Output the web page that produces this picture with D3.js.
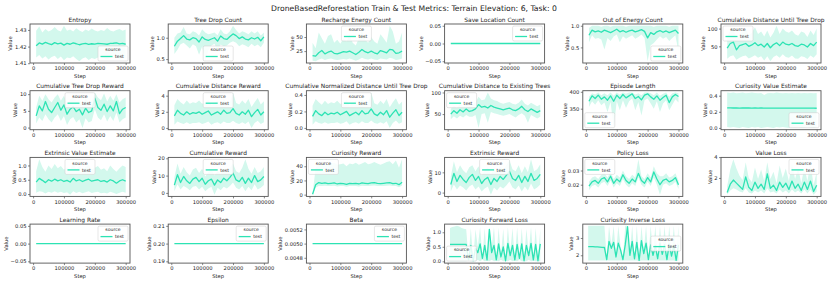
<!DOCTYPE html>
<html>
<head>
<meta charset="utf-8">
<script src="https://cdn.jsdelivr.net/npm/d3@7"></script>
<style>
  body { margin: 0; background: #fff; }
  svg { display: block; font-family: "DejaVu Sans", sans-serif; }
</style>
</head>
<body>
<svg id="chart" width="831" height="283"></svg>
<script>
// Training steps (x values)
var steps = [10000, 20000, 30000, 40000, 50000, 60000, 70000, 80000, 90000, 100000,
             110000, 120000, 130000, 140000, 150000, 160000, 170000, 180000, 190000, 200000,
             210000, 220000, 230000, 240000, 250000, 260000, 270000, 280000, 290000, 300000];
var flatSteps = [10000, 300000];
var lossSteps = [7500, 15000, 22500, 30000, 37500, 45000, 52500, 60000, 67500, 75000,
                 82500, 90000, 97500, 105000, 112500, 120000, 127500, 135000, 142500, 150000,
                 157500, 165000, 172500, 180000, 187500, 195000, 202500, 210000, 217500, 225000,
                 232500, 240000, 247500, 255000, 262500, 270000, 277500, 285000, 292500, 300000];
var stepDomain = [-10000, 314000];
var stepTicks = [0, 100000, 200000, 300000];

// Row 1
var entropyMean = [1.4205,1.4222,1.4215,1.4225,1.4218,1.4212,1.4224,1.4216,1.4221,1.4209,1.4219,1.4214,1.4222,1.4217,1.4211,1.4216,1.4219,1.4213,1.4217,1.4215,1.4219,1.4218,1.4216,1.4214,1.4219,1.4220,1.4222,1.4216,1.4219,1.4214];
var entropyLo = [1.4135,1.4150,1.4128,1.4142,1.4122,1.4138,1.4145,1.4125,1.4140,1.4118,1.4135,1.4130,1.4142,1.4126,1.4112,1.4128,1.4136,1.4120,1.4132,1.4125,1.4134,1.4140,1.4128,1.4122,1.4136,1.4130,1.4138,1.4126,1.4132,1.4128];
var entropyHi = [1.4295,1.4320,1.4285,1.4305,1.4290,1.4300,1.4318,1.4298,1.4290,1.4325,1.4295,1.4302,1.4290,1.4310,1.4296,1.4288,1.4302,1.4294,1.4308,1.4296,1.4290,1.4300,1.4294,1.4312,1.4296,1.4290,1.4300,1.4305,1.4295,1.4302];
var entropyTicks = [1.41, 1.42, 1.43];

var treeDropMean = [0.80,0.92,0.98,1.05,0.97,0.95,1.00,0.98,0.90,1.02,0.96,0.94,0.97,1.00,0.92,1.04,0.98,0.96,1.03,1.09,1.05,0.98,1.02,0.97,0.95,1.00,0.97,1.01,0.93,1.02];
var treeDropLo = [0.62,0.72,0.85,0.88,0.82,0.75,0.85,0.80,0.60,0.80,0.45,0.70,0.82,0.86,0.70,0.84,0.80,0.82,0.88,0.92,0.88,0.80,0.85,0.82,0.78,0.86,0.80,0.84,0.78,0.88];
var treeDropHi = [1.00,1.10,1.12,1.25,1.10,1.08,1.15,1.12,1.05,1.20,1.12,1.08,1.10,1.12,1.06,1.20,1.10,1.08,1.15,1.28,1.18,1.10,1.15,1.12,1.08,1.15,1.10,1.15,1.05,1.12];
var treeDropTicks = [0.5, 1.0];

var rechargeMean = [17,16,22,26,20,23,25,21,20,22,24,23,25,22,19,23,28,24,22,25,22,20,26,24,22,28,27,21,22,25];
var rechargeLo = [8,7,10,12,9,11,12,10,9,10,11,10,12,10,8,10,13,11,10,12,10,9,12,11,10,13,12,9,10,12];
var rechargeHi = [40,30,58,48,38,52,55,40,45,38,48,42,55,40,35,48,62,45,40,50,42,38,55,48,40,70,60,38,42,58];
var rechargeTicks = [25, 50];

var saveLocMean = [0, 0];
var zeroTicks = [-0.05, 0.00, 0.05];

var outEnergyMean = [0.78,0.90,0.86,0.88,0.85,0.90,0.87,0.84,0.88,0.92,0.86,0.89,0.85,0.88,0.90,0.86,0.88,0.91,0.87,0.72,0.84,0.80,0.86,0.89,0.85,0.88,0.84,0.87,0.90,0.82];
var outEnergyLo = [0.62,0.78,0.70,0.72,0.68,0.45,0.72,0.65,0.75,0.80,0.62,0.76,0.70,0.74,0.78,0.70,0.74,0.80,0.72,0.18,0.55,0.60,0.68,0.76,0.70,0.74,0.65,0.72,0.78,0.40];
var outEnergyHi = [0.95,1.00,1.00,1.00,0.98,1.00,1.00,0.98,1.00,1.00,1.00,1.00,0.98,1.00,1.00,1.00,1.00,1.00,1.00,1.00,1.00,0.98,1.00,1.00,1.00,1.00,0.98,1.00,1.00,1.00];
var outEnergyTicks = [0.5, 1.0];

var distUntilDropMean = [45,58,62,40,52,55,58,50,54,60,52,56,48,58,46,55,60,52,62,56,54,58,52,50,56,54,48,58,52,62];
var distUntilDropLo = [15,22,25,12,18,22,24,16,20,25,18,22,10,22,8,20,25,18,28,20,18,24,16,15,22,20,14,24,18,28];
var distUntilDropHi = [78,95,100,72,85,90,98,82,88,104,85,92,78,95,75,88,108,85,100,92,88,95,84,80,92,88,76,95,82,100];
var fiftyHundredTicks = [50, 100];

// Row 2
var treeDropRewardMean = [3.5,6.5,5.0,7.8,5.5,4.5,6.0,7.5,5.2,6.8,4.0,5.5,6.2,4.8,5.5,3.8,5.8,4.5,5.0,8.8,6.0,5.2,7.0,4.8,6.5,5.0,7.8,4.2,5.5,6.0];
var treeDropRewardLo = [1.2,3.0,2.0,4.0,2.5,1.5,3.0,4.0,2.0,3.5,0.8,2.5,3.2,1.5,2.5,-0.1,2.8,1.5,2.0,5.5,3.0,2.2,4.0,1.8,3.5,2.0,4.5,1.5,2.5,3.0];
var treeDropRewardHi = [6.0,9.5,8.0,10.0,8.5,7.5,9.0,10.0,8.0,9.5,7.0,8.5,9.0,8.0,8.5,7.0,8.8,7.5,8.0,10.5,9.0,8.2,10.2,7.8,9.5,8.0,10.0,7.5,8.5,9.0];
var zeroFiveTenTicks = [0, 5, 10];

var distRewardMean = [1.5,2.2,1.8,1.6,2.0,1.7,1.9,1.8,2.0,1.7,1.9,2.1,1.6,1.8,2.0,1.7,2.2,1.8,1.9,2.4,1.8,1.6,2.0,1.7,2.2,1.4,1.9,2.3,1.6,2.0];
var distRewardLo = [0.4,0.8,0.6,0.5,0.7,0.5,0.6,0.6,0.7,0.5,0.6,0.8,0.4,0.6,0.7,0.5,0.8,0.6,0.6,0.9,0.6,0.5,0.7,0.5,0.8,0.0,0.6,0.9,0.5,0.7];
var distRewardHi = [2.8,3.6,3.2,2.9,3.4,3.0,3.2,3.1,3.4,3.0,3.2,3.5,2.8,3.1,3.4,3.0,3.6,3.1,3.2,4.4,3.1,2.9,3.4,3.0,3.6,2.6,3.2,3.7,2.9,3.3];
var zeroTwoFourTicks = [0, 2, 4];

var normDistMean = [0.14,0.21,0.17,0.15,0.19,0.16,0.18,0.17,0.19,0.16,0.18,0.20,0.15,0.17,0.19,0.16,0.21,0.17,0.18,0.23,0.17,0.15,0.19,0.16,0.21,0.13,0.18,0.22,0.15,0.19];
var normDistLo = [0.04,0.08,0.06,0.05,0.07,0.05,0.06,0.06,0.07,0.05,0.06,0.08,0.04,0.06,0.07,0.05,0.08,0.06,0.06,0.09,0.06,0.05,0.07,0.05,0.08,0.00,0.06,0.09,0.05,0.07];
var normDistHi = [0.27,0.35,0.31,0.28,0.33,0.29,0.31,0.30,0.33,0.29,0.31,0.34,0.27,0.30,0.33,0.29,0.35,0.30,0.31,0.43,0.30,0.28,0.33,0.29,0.35,0.25,0.31,0.36,0.28,0.32];
var tenthsTicks = [0.0, 0.2, 0.4];

var distExistingMean = [50,58,52,60,55,62,56,58,62,72,66,68,64,70,66,64,62,60,62,64,60,58,62,68,60,56,62,58,54,58];
var distExistingLo = [38,45,40,46,42,48,44,44,48,18,50,52,30,55,52,50,48,46,48,50,46,42,48,52,46,30,48,44,40,44];
var distExistingHi = [62,70,64,74,68,76,68,72,76,90,82,84,100,86,82,80,76,74,76,78,74,72,76,84,74,70,76,72,68,72];

var episodeLenMean = [372,388,380,390,378,385,375,388,372,390,380,392,382,388,394,380,386,376,390,394,385,378,388,375,383,390,368,385,392,386];
var episodeLenLo = [355,372,362,375,360,368,340,370,293,372,345,375,352,372,380,345,370,330,375,380,365,350,372,340,365,375,345,362,378,368];
var episodeLenHi = [385,396,392,398,390,396,390,398,388,398,392,398,394,398,398,392,396,390,398,398,396,390,398,388,394,398,385,396,398,396];
var episodeLenTicks = [350, 400];

var curValueMean = [0.250,0.248,0.247,0.248,0.246,0.247,0.248,0.247,0.246,0.247,0.246,0.247,0.246,0.245,0.246,0.246,0.245,0.246,0.245,0.246,0.245,0.246,0.245,0.245,0.246,0.245,0.245,0.246,0.245,0.244];
var curValueLo = [0.01,0.005,0.01,0.005,0.0,0.01,0.005,0.0,0.01,0.005,0.01,0.0,0.005,0.01,0.005,0.0,0.01,0.005,0.01,0.005,0.0,0.01,0.005,0.01,0.0,0.005,0.01,0.005,0.0,0.01];
var curValueHi = [0.44,0.435,0.44,0.43,0.435,0.44,0.43,0.435,0.44,0.435,0.43,0.435,0.41,0.43,0.435,0.43,0.44,0.435,0.43,0.435,0.43,0.435,0.43,0.435,0.43,0.435,0.43,0.435,0.43,0.435];

// Row 3
var extValueMean = [0.42,0.55,0.48,0.40,0.50,0.45,0.52,0.46,0.50,0.44,0.48,0.42,0.55,0.46,0.50,0.44,0.49,0.52,0.45,0.48,0.50,0.44,0.47,0.42,0.50,0.46,0.38,0.46,0.50,0.45];
var extValueLo = [0.05,0.10,0.08,0.02,0.08,0.05,0.10,0.05,0.08,0.04,0.06,-0.02,0.10,0.04,0.08,0.03,0.06,0.10,0.04,0.06,0.08,0.03,0.05,0.02,0.08,0.05,0.00,0.05,0.08,0.05];
var extValueHi = [0.80,1.22,0.95,0.78,1.00,0.88,1.05,0.90,0.98,0.85,0.95,0.82,1.10,0.88,1.00,0.85,0.95,1.02,0.86,0.92,0.98,0.85,0.90,0.80,1.00,0.88,0.78,0.90,1.00,0.95];
var halfTicks = [0.0, 0.5, 1.0];

var cumRewardMean = [4.5,10.5,6.0,9.5,7.0,5.5,8.0,9.0,6.5,8.5,5.0,7.0,8.0,4.5,7.5,6.0,8.5,7.0,9.0,11.5,7.5,6.5,9.0,5.5,8.5,6.0,10.0,6.5,7.5,9.5];
var cumRewardLo = [1.0,5.0,2.0,4.0,3.0,1.5,3.5,4.0,2.0,3.5,1.0,2.5,3.5,-1.0,3.0,1.5,3.5,2.5,4.0,6.0,3.0,2.0,4.0,1.0,3.5,1.5,5.0,2.0,3.0,4.5];
var cumRewardHi = [9.0,17.0,11.0,15.0,12.0,10.0,13.5,14.5,11.5,14.0,9.5,12.0,13.5,10.0,12.5,11.0,14.0,12.0,14.5,17.0,12.5,11.5,14.5,19.5,14.0,11.0,15.0,11.5,12.5,15.0];
var tensTicks = [0, 10, 20];

var curRewardMean = [0.5,14,17,16,16.5,15.5,16,16.5,15,16,15.5,14.5,16,15.5,16,15,16.5,16,15.5,16.5,17,16,15.5,16,16.5,17,15.5,16,14,17.5];
var curRewardLo = [0,10,12,12,12.5,12,12,12.5,11.5,12,12,11,12,12,12,11.5,12.5,12,12,12.5,13,12,12,12,12.5,13,12,12,10.5,13];
var curRewardHi = [1,38,43,42,44,43,44,45,42,43,44,40,44,43,45,42,44,46,43,44,46,44,42,44,46,47,43,48,38,50];
var twentiesTicks = [0, 20, 40];

var extRewardMean = [4.0,9.5,5.5,8.5,6.5,5.0,7.5,9.0,6.0,8.0,4.5,6.5,7.5,4.0,7.0,5.5,8.0,6.5,8.5,10.5,7.0,6.0,8.5,5.0,8.0,5.5,9.5,6.0,7.0,9.0];
var extRewardLo = [0.5,4.0,1.5,3.5,2.5,1.0,3.0,4.0,1.5,3.0,0.5,2.0,3.0,-1.0,2.5,1.0,3.0,2.0,3.5,5.5,2.5,1.5,3.5,0.5,3.0,1.0,4.5,1.5,2.5,4.0];
var extRewardHi = [8.0,15.5,10.0,13.5,11.0,9.5,12.5,13.5,10.5,13.0,8.5,11.0,12.5,9.0,11.5,10.0,13.0,11.0,13.5,16.0,11.5,10.5,13.5,9.5,13.0,10.0,16.5,10.5,11.5,14.0];
var zeroTenTicks = [0, 10];

var policyLossMean = [0.019,0.022,0.023,0.021,0.024,0.025,0.022,0.026,0.021,0.024,0.022,0.027,0.023,0.021,0.024,0.022,0.028,0.023,0.021,0.025,0.022,0.029,0.024,0.020,0.023,0.024,0.022,0.023,0.025,0.020];
var policyLossLo = [0.016,0.019,0.020,0.018,0.021,0.022,0.019,0.023,0.018,0.021,0.019,0.024,0.020,0.018,0.021,0.019,0.025,0.020,0.018,0.022,0.019,0.025,0.020,0.013,0.020,0.021,0.019,0.020,0.022,0.017];
var policyLossHi = [0.022,0.025,0.026,0.024,0.027,0.028,0.025,0.029,0.024,0.027,0.025,0.030,0.026,0.024,0.027,0.025,0.038,0.026,0.024,0.028,0.025,0.033,0.028,0.026,0.026,0.028,0.025,0.026,0.028,0.023];
var policyLossTicks = [0.02, 0.03];

var valueLossMean = [0.6,1.4,1.8,1.5,1.2,0.9,2.1,1.1,0.8,1.6,1.0,1.4,0.9,2.4,1.0,1.3,0.8,1.6,1.1,1.5,0.9,1.7,1.0,1.4,0.8,1.6,0.9,1.7,0.7,1.3];
var valueLossLo = [0.4,0.8,1.0,0.9,0.7,0.6,1.0,0.6,0.5,0.8,0.6,0.8,0.5,1.0,0.6,0.7,0.5,0.9,0.6,0.8,0.5,0.9,0.6,0.8,0.5,0.9,0.5,0.9,0.4,0.7];
var valueLossHi = [1.2,2.8,3.8,2.9,2.2,1.8,3.5,2.0,1.6,3.0,1.9,2.8,1.7,3.5,1.9,2.6,1.5,3.2,2.0,2.9,1.7,3.4,1.9,3.0,1.5,3.0,1.7,3.4,1.3,2.6];
var valueLossTicks = [2, 4];

// Row 4
var learningRateMean = [0, 0];
var epsilonMean = [0.2, 0.2];
var epsilonTicks = [0.19, 0.20, 0.21];
var betaMean = [0.005, 0.005];
var betaTicks = [0.0048, 0.0050, 0.0052];

var fwdLossMean = [0.58,0.58,0.58,0.58,0.58,0.58,0.58,0.58,0.05,0.55,0.02,0.45,0.30,0.60,0.10,0.55,0.05,1.10,0.30,0.55,0.05,0.60,0.15,0.50,0.02,0.62,0.20,0.55,0.05,0.58,0.10,0.60,0.02,0.55,0.20,0.62,0.05,0.58,0.02,0.60];
var fwdLossLo = [0,0,0,0,0,0,0,0,0.03,0.0,0.0,0.0,0.05,0.0,0.05,0.0,0.02,0.0,0.05,0.0,0.02,0.0,0.05,0.0,0.0,0.0,0.05,0.0,0.02,0.0,0.05,0.0,0.0,0.0,0.05,0.0,0.02,0.0,0.0,0.0];
var fwdLossHi = [1.15,1.18,1.20,1.22,1.20,1.15,1.12,1.10,0.08,1.15,0.05,1.10,0.50,1.18,0.15,1.15,0.08,1.15,0.50,1.18,0.08,1.16,0.20,1.12,0.05,1.18,0.30,1.15,0.08,1.16,0.15,1.15,0.05,1.12,0.30,1.18,0.08,1.15,0.05,1.12];

var invLossMean = [2.50,2.50,2.50,2.48,2.48,2.47,2.46,2.45,1.75,2.80,2.40,2.75,1.90,2.70,2.30,1.75,2.60,3.65,2.00,2.80,1.80,2.75,1.70,2.85,2.10,2.70,1.75,2.60,2.00,2.55,1.80,2.70,2.05,2.60,1.75,2.65,1.95,2.55,1.70,2.60];
var invLossLo = [1.70,1.70,1.70,1.70,1.70,1.70,1.70,1.70,1.70,1.70,1.70,1.70,1.70,1.70,1.70,1.70,1.70,1.70,1.70,1.70,1.70,1.70,1.65,1.70,1.70,1.70,1.70,1.70,1.70,1.70,1.70,1.70,1.70,1.70,1.70,1.70,1.70,1.70,1.65,1.70];
var invLossHi = [3.70,3.70,3.70,3.70,3.70,3.70,3.70,3.70,1.85,3.70,2.60,3.70,2.00,3.70,2.50,1.85,3.70,3.70,2.10,3.70,1.90,3.70,1.80,3.70,2.25,3.70,1.85,3.70,2.10,3.70,1.90,3.70,2.15,3.70,1.85,3.70,2.05,3.70,1.80,3.70];
var invLossTicks = [2, 3];

// Panel table, in the order they appear (6 per row)
var panels = [
  { title: 'Entropy', x: steps, mean: entropyMean, lo: entropyLo, hi: entropyHi, ticks: entropyTicks, fmt: '.2f', legend: 'lr' },
  { title: 'Tree Drop Count', x: steps, mean: treeDropMean, lo: treeDropLo, hi: treeDropHi, ticks: treeDropTicks, fmt: '.1f', legend: 'lc' },
  { title: 'Recharge Energy Count', x: steps, mean: rechargeMean, lo: rechargeLo, hi: rechargeHi, ticks: rechargeTicks, fmt: 'd', legend: 'uc' },
  { title: 'Save Location Count', x: flatSteps, mean: saveLocMean, ticks: zeroTicks, fmt: '.2f', legend: 'ur' },
  { title: 'Out of Energy Count', x: steps, mean: outEnergyMean, lo: outEnergyLo, hi: outEnergyHi, ticks: outEnergyTicks, fmt: '.1f', legend: 'lr' },
  { title: 'Cumulative Distance Until Tree Drop', x: steps, mean: distUntilDropMean, lo: distUntilDropLo, hi: distUntilDropHi, ticks: fiftyHundredTicks, fmt: 'd', legend: 'ul' },

  { title: 'Cumulative Tree Drop Reward', x: steps, mean: treeDropRewardMean, lo: treeDropRewardLo, hi: treeDropRewardHi, ticks: zeroFiveTenTicks, fmt: 'd', legend: 'uc' },
  { title: 'Cumulative Distance Reward', x: steps, mean: distRewardMean, lo: distRewardLo, hi: distRewardHi, ticks: zeroTwoFourTicks, fmt: 'd', legend: 'uc' },
  { title: 'Cumulative Normalized Distance Until Tree Drop', x: steps, mean: normDistMean, lo: normDistLo, hi: normDistHi, ticks: tenthsTicks, fmt: '.1f', legend: 'uc' },
  { title: 'Cumulative Distance to Existing Trees', x: steps, mean: distExistingMean, lo: distExistingLo, hi: distExistingHi, ticks: fiftyHundredTicks, fmt: 'd', legend: 'ul' },
  { title: 'Episode Length', x: steps, mean: episodeLenMean, lo: episodeLenLo, hi: episodeLenHi, ticks: episodeLenTicks, fmt: 'd', legend: 'll' },
  { title: 'Curiosity Value Estimate', x: steps, mean: curValueMean, lo: curValueLo, hi: curValueHi, ticks: tenthsTicks, fmt: '.1f', legend: 'lr' },

  { title: 'Extrinsic Value Estimate', x: steps, mean: extValueMean, lo: extValueLo, hi: extValueHi, ticks: halfTicks, fmt: '.1f', legend: 'uc' },
  { title: 'Cumulative Reward', x: steps, mean: cumRewardMean, lo: cumRewardLo, hi: cumRewardHi, ticks: tensTicks, fmt: 'd', legend: 'uc' },
  { title: 'Curiosity Reward', x: steps, mean: curRewardMean, lo: curRewardLo, hi: curRewardHi, ticks: twentiesTicks, fmt: 'd', legend: 'ul' },
  { title: 'Extrinsic Reward', x: steps, mean: extRewardMean, lo: extRewardLo, hi: extRewardHi, ticks: zeroTenTicks, fmt: 'd', legend: 'uc' },
  { title: 'Policy Loss', x: steps, mean: policyLossMean, lo: policyLossLo, hi: policyLossHi, ticks: policyLossTicks, fmt: '.2f', legend: 'ul' },
  { title: 'Value Loss', x: steps, mean: valueLossMean, lo: valueLossLo, hi: valueLossHi, ticks: valueLossTicks, fmt: 'd', legend: 'ur' },

  { title: 'Learning Rate', x: flatSteps, mean: learningRateMean, ticks: zeroTicks, fmt: '.2f', legend: 'ur' },
  { title: 'Epsilon', x: flatSteps, mean: epsilonMean, ticks: epsilonTicks, fmt: '.2f', legend: 'ur' },
  { title: 'Beta', x: flatSteps, mean: betaMean, ticks: betaTicks, fmt: '.4f', legend: 'ur' },
  { title: 'Curiosity Forward Loss', x: lossSteps, mean: fwdLossMean, lo: fwdLossLo, hi: fwdLossHi, ticks: halfTicks, fmt: '.1f', legend: 'll' },
  { title: 'Curiosity Inverse Loss', x: lossSteps, mean: invLossMean, lo: invLossLo, hi: invLossHi, ticks: invLossTicks, fmt: 'd', legend: 'cr' }
];

// Layout
var colLeft = 30, colStep = 138.2, plotW = 100;
var rowTop = 24, rowStep = 66.7, plotH = 39;
var lineColor = '#2de3b4';
var fillColor = '#d3f8ed';
var textColor = '#222';
var frameColor = '#555';

var svg = d3.select('#chart');

svg.append('text')
    .attr('x', 414)
    .attr('y', 11)
    .attr('text-anchor', 'middle')
    .attr('font-size', 7.7)
    .attr('fill', textColor)
    .text('DroneBasedReforestation Train & Test Metrics: Terrain Elevation: 6, Task: 0');

// matplotlib-like autoscale: data limits + 5% margin, flat data expanded first
function yExtent(p) {
    var all = p.mean.concat(p.lo || [], p.hi || []);
    var lo = d3.min(all), hi = d3.max(all);
    if (lo === hi) {
        if (lo === 0) { lo = -0.05; hi = 0.05; }
        else { lo = lo - 0.05 * Math.abs(lo); hi = hi + 0.05 * Math.abs(hi); }
    }
    var pad = (hi - lo) * 0.05;
    return [lo - pad, hi + pad];
}

function legendPos(loc) {
    var lw = 30, lh = 15, m = 2;
    var v = loc.charAt(0), h = loc.charAt(1);
    var ly = v === 'u' ? m : (v === 'l' ? plotH - lh - m : (plotH - lh) / 2);
    var lx = h === 'l' ? m : (h === 'r' ? plotW - lw - m : (plotW - lw) / 2);
    return [lx, ly, lw, lh];
}

panels.forEach(function(p, i) {
    var row = Math.floor(i / 6), col = i % 6;
    var g = svg.append('g')
        .attr('transform', 'translate(' + (colLeft + col * colStep) + ',' + (rowTop + row * rowStep) + ')');

    var x = d3.scaleLinear().domain(stepDomain).range([0, plotW]);
    var y = d3.scaleLinear().domain(yExtent(p)).range([plotH, 0]);

    var pts = p.x.map(function(s, k) {
        return { step: s, mean: p.mean[k], lo: p.lo ? p.lo[k] : p.mean[k], hi: p.hi ? p.hi[k] : p.mean[k] };
    });

    // band
    if (p.lo) {
        g.append('path')
            .datum(pts)
            .attr('fill', fillColor)
            .attr('d', d3.area()
                .x(function(d) { return x(d.step); })
                .y0(function(d) { return y(d.lo); })
                .y1(function(d) { return y(d.hi); }));
    }

    // mean line
    g.append('path')
        .datum(pts)
        .attr('fill', 'none')
        .attr('stroke', lineColor)
        .attr('stroke-width', 1.3)
        .attr('stroke-linejoin', 'round')
        .attr('d', d3.line()
            .x(function(d) { return x(d.step); })
            .y(function(d) { return y(d.mean); }));

    // axes
    var xAxis = g.append('g')
        .attr('transform', 'translate(0,' + plotH + ')')
        .call(d3.axisBottom(x).tickValues(stepTicks).tickFormat(d3.format('d')).tickSize(2).tickPadding(1.5));
    var yAxis = g.append('g')
        .call(d3.axisLeft(y).tickValues(p.ticks).tickFormat(d3.format(p.fmt)).tickSize(2).tickPadding(1.5));
    [xAxis, yAxis].forEach(function(a) {
        a.attr('font-size', 5.2).attr('font-family', null);
        a.select('.domain').remove();
        a.selectAll('line').attr('stroke', frameColor).attr('stroke-width', 0.7);
        a.selectAll('text').attr('fill', textColor);
    });

    // frame
    g.append('rect')
        .attr('width', plotW)
        .attr('height', plotH)
        .attr('fill', 'none')
        .attr('stroke', frameColor)
        .attr('stroke-width', 0.9);

    // labels
    g.append('text')
        .attr('x', plotW / 2)
        .attr('y', -2.5)
        .attr('text-anchor', 'middle')
        .attr('font-size', 5.9)
        .attr('fill', textColor)
        .text(p.title);

    g.append('text')
        .attr('x', plotW / 2)
        .attr('y', plotH + 14.5)
        .attr('text-anchor', 'middle')
        .attr('font-size', 5.2)
        .attr('fill', textColor)
        .text('Step');

    var bb = yAxis.node().getBBox();
    g.append('text')
        .attr('transform', 'translate(' + (bb.x - 2.5) + ',' + (plotH / 2) + ') rotate(-90)')
        .attr('text-anchor', 'middle')
        .attr('font-size', 5.2)
        .attr('fill', textColor)
        .text('Value');

    // legend
    var lp = legendPos(p.legend);
    var lg = g.append('g').attr('transform', 'translate(' + lp[0] + ',' + lp[1] + ')');
    lg.append('rect')
        .attr('width', lp[2])
        .attr('height', lp[3])
        .attr('rx', 1.5)
        .attr('fill', '#fff')
        .attr('fill-opacity', 0.85)
        .attr('stroke', '#ccc')
        .attr('stroke-width', 0.5);
    lg.append('text')
        .attr('x', lp[2] / 2)
        .attr('y', 5.3)
        .attr('text-anchor', 'middle')
        .attr('font-size', 4.6)
        .attr('fill', textColor)
        .text('source');
    lg.append('line')
        .attr('x1', 2.5).attr('x2', 14.5)
        .attr('y1', 10.5).attr('y2', 10.5)
        .attr('stroke', lineColor)
        .attr('stroke-width', 1.3);
    lg.append('text')
        .attr('x', 17)
        .attr('y', 12.2)
        .attr('font-size', 4.6)
        .attr('fill', textColor)
        .text('test');
});
</script>
</body>
</html>
